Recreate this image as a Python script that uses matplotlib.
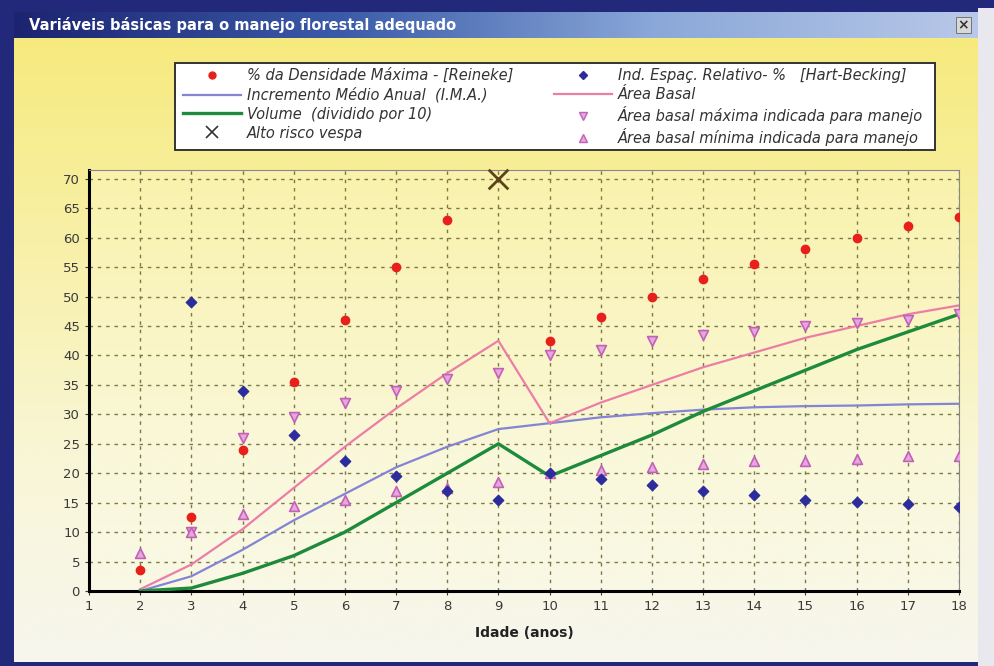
import numpy as np
import matplotlib
matplotlib.use("Agg")
import matplotlib.pyplot as plt
from matplotlib.patches import Rectangle
from matplotlib.colors import LinearSegmentedColormap
from matplotlib.lines import Line2D

# ---------------- data ----------------
idade = [2, 3, 4, 5, 6, 7, 8, 9, 10, 11, 12, 13, 14, 15, 16, 17, 18]

dens_x = [2, 3, 4, 5, 6, 7, 8, 10, 11, 12, 13, 14, 15, 16, 17, 18]
dens_max = [3.5, 12.5, 24, 35.5, 46, 55, 63, 42.5, 46.5, 50, 53, 55.5, 58, 60, 62, 63.5]

espac_x = [3, 4, 5, 6, 7, 8, 9, 10, 11, 12, 13, 14, 15, 16, 17, 18]
espac_rel = [49, 34, 26.5, 22, 19.5, 17, 15.5, 20, 19, 18, 17, 16.3, 15.5, 15.2, 14.7, 14.3]

ima = [0, 2.5, 7, 12, 16.5, 21, 24.5, 27.5, 28.5, 29.5, 30.2, 30.8, 31.2, 31.4, 31.5, 31.7, 31.8]
area_basal = [0.3, 4.5, 10.5, 17.5, 24.5, 31, 37, 42.5, 28.5, 32, 35, 38, 40.5, 43, 45, 47, 48.5]
volume = [0, 0.5, 3, 6, 10, 15, 20, 25, 19.5, 23, 26.5, 30.5, 34, 37.5, 41, 44, 47]

ab_max_x = [3, 4, 5, 6, 7, 8, 9, 10, 11, 12, 13, 14, 15, 16, 17, 18]
ab_max = [10, 26, 29.5, 32, 34, 36, 37, 40, 41, 42.5, 43.5, 44, 45, 45.5, 46, 47]

ab_min = [6.5, 10, 13, 14.5, 15.5, 17, 17.5, 18.5, 20, 20.5, 21, 21.5, 22, 22, 22.5, 23, 23]

vespa_x = [9]
vespa_y = [70]

labels_col1 = ["% da Densidade Máxima - [Reineke]",
               "Incremento Médio Anual  (I.M.A.)",
               "Volume  (dividido por 10)",
               "Alto risco vespa"]
labels_col2 = ["Ind. Espaç. Relativo- %   [Hart-Becking]",
               "Área Basal",
               "Área basal máxima indicada para manejo",
               "Área basal mínima indicada para manejo"]
title_txt = "Variáveis básicas para o manejo florestal adequado"
xlabel_txt = "Idade (anos)"
xticks = list(range(1, 19))
yticks = list(range(0, 71, 5))

# ---------------- figure ----------------
W, H = 994, 666
fig = plt.figure(figsize=(W / 100, H / 100), dpi=100)
fig.patch.set_facecolor("#22287a")

def fx(px):
    return px / W

def fy(py):
    return 1 - py / H

# background panel with vertical gradient
bg = fig.add_axes([fx(14), fy(662), fx(978 - 14), (662 - 38) / H])
bg.set_axis_off()
cmap = LinearSegmentedColormap.from_list("bg", ["#f6ea7e", "#f8f0a8", "#f9f6d6", "#f7f6ee"])
grad = np.linspace(0, 1, 256).reshape(-1, 1)
bg.imshow(grad, aspect="auto", cmap=cmap, extent=[0, 1, 0, 1], origin="upper")
bg.set_xlim(0, 1)
bg.set_ylim(0, 1)

# right light strip
fig.patches.append(Rectangle((fx(978), 0), 1 - fx(978), fy(8), transform=fig.transFigure,
                             facecolor="#e8e8ee", edgecolor="none", zorder=0))
# title bar gradient
tb = fig.add_axes([fx(14), fy(38), fx(978 - 14), (38 - 12) / H])
tb.set_axis_off()
cmap2 = LinearSegmentedColormap.from_list("tb", ["#1c2470", "#3a5aa8", "#8aa8d8", "#b8c8e8"])
tb.imshow(np.linspace(0, 1, 256).reshape(1, -1), aspect="auto", cmap=cmap2, extent=[0, 1, 0, 1])
tb.set_xlim(0, 1)
tb.set_ylim(0, 1)
tb.text(0.016, 0.5, title_txt, color="white", fontsize=10.5, fontweight="bold",
        va="center", ha="left", family="Liberation Sans Narrow")
tb.text(0.985, 0.5, "×", color="#333333", fontsize=10, fontweight="bold", va="center", ha="center",
        bbox=dict(boxstyle="square,pad=0.1", facecolor="#d8d8d8", edgecolor="#666666", lw=0.6))

# ---------------- main plot ----------------
x0, x1 = 89, 959
y_top, y_bot = 170, 591
ax = fig.add_axes([fx(x0), fy(y_bot), fx(x1 - x0), (y_bot - y_top) / H])
ax.set_facecolor((1, 1, 0.9, 0.25))
ax.set_xlim(1, 18)
ax.set_ylim(0, 71.5)
ax.set_xticks(xticks)
ax.set_yticks(yticks)
ax.tick_params(axis="both", labelsize=9.5, colors="#3a3a3a", length=3)
ax.grid(True, color="#7a7a48", linestyle=(0, (2.5, 3.5)), linewidth=1.0)
for s in ["top", "right"]:
    ax.spines[s].set_color("#888888")
    ax.spines[s].set_linewidth(0.8)
ax.spines["left"].set_linewidth(2.2)
ax.spines["left"].set_color("black")
ax.spines["bottom"].set_linewidth(2.2)
ax.spines["bottom"].set_color("black")
ax.set_xlabel(xlabel_txt, fontsize=10, fontweight="bold", color="#222222", labelpad=9)

ima_c = "#8484d4"
ab_c = "#ec7ea6"
vol_c = "#1e8a3c"
red_c = "#e8201c"
blue_c = "#2c2c9c"
tri_edge = "#c460b8"
tri_face = "#e4a8dc"

ax.plot(idade, ima, color=ima_c, lw=1.6, zorder=3)
ax.plot(idade, area_basal, color=ab_c, lw=1.6, zorder=3)
ax.plot(idade, volume, color=vol_c, lw=2.4, zorder=3)
ax.scatter(ab_max_x, ab_max, marker="v", s=50, facecolor=tri_face, edgecolor=tri_edge,
           linewidth=1.2, zorder=4)
ax.scatter(idade, ab_min, marker="^", s=50, facecolor=tri_face, edgecolor=tri_edge,
           linewidth=1.2, zorder=4)
ax.scatter(dens_x, dens_max, marker="o", s=36, color=red_c, zorder=5)
ax.scatter(espac_x, espac_rel, marker="D", s=28, color=blue_c, zorder=5)
ax.scatter(vespa_x, vespa_y, marker="x", s=200, color="#5a4418", linewidth=2.0, zorder=6,
           clip_on=False)

# ---------------- legend (two columns, common frame) ----------------
fig.patches.append(Rectangle((fx(175), fy(150)), fx(935 - 175), (150 - 63) / H,
                             transform=fig.transFigure, facecolor="white",
                             edgecolor="#333333", linewidth=1.4, zorder=1))

h1 = [Line2D([], [], ls="none", marker="o", ms=5, color=red_c),
      Line2D([], [], color=ima_c, lw=1.6),
      Line2D([], [], color=vol_c, lw=2.4),
      Line2D([], [], ls="none", marker="x", ms=9, mew=1.2, color="#333333")]
h2 = [Line2D([], [], ls="none", marker="D", ms=4, color=blue_c),
      Line2D([], [], color=ab_c, lw=1.6),
      Line2D([], [], ls="none", marker="v", ms=6, mfc=tri_face, mec=tri_edge, mew=1),
      Line2D([], [], ls="none", marker="^", ms=6, mfc=tri_face, mec=tri_edge, mew=1)]

leg_kw = dict(loc="upper left", frameon=False, borderpad=0, borderaxespad=0,
              handlelength=4.0, handletextpad=0.4, labelspacing=0.27,
              prop=dict(size=10.5, style="italic", family="DejaVu Sans"))
leg1 = fig.legend(h1, labels_col1, bbox_to_anchor=(fx(183), fy(68)), **leg_kw)
leg2 = fig.legend(h2, labels_col2, bbox_to_anchor=(fx(554), fy(68)), **leg_kw)
for lg in (leg1, leg2):
    lg.set_zorder(2)
    for t in lg.get_texts():
        t.set_color("#333333")

fig.savefig("out.png", dpi=100, facecolor=fig.get_facecolor())
